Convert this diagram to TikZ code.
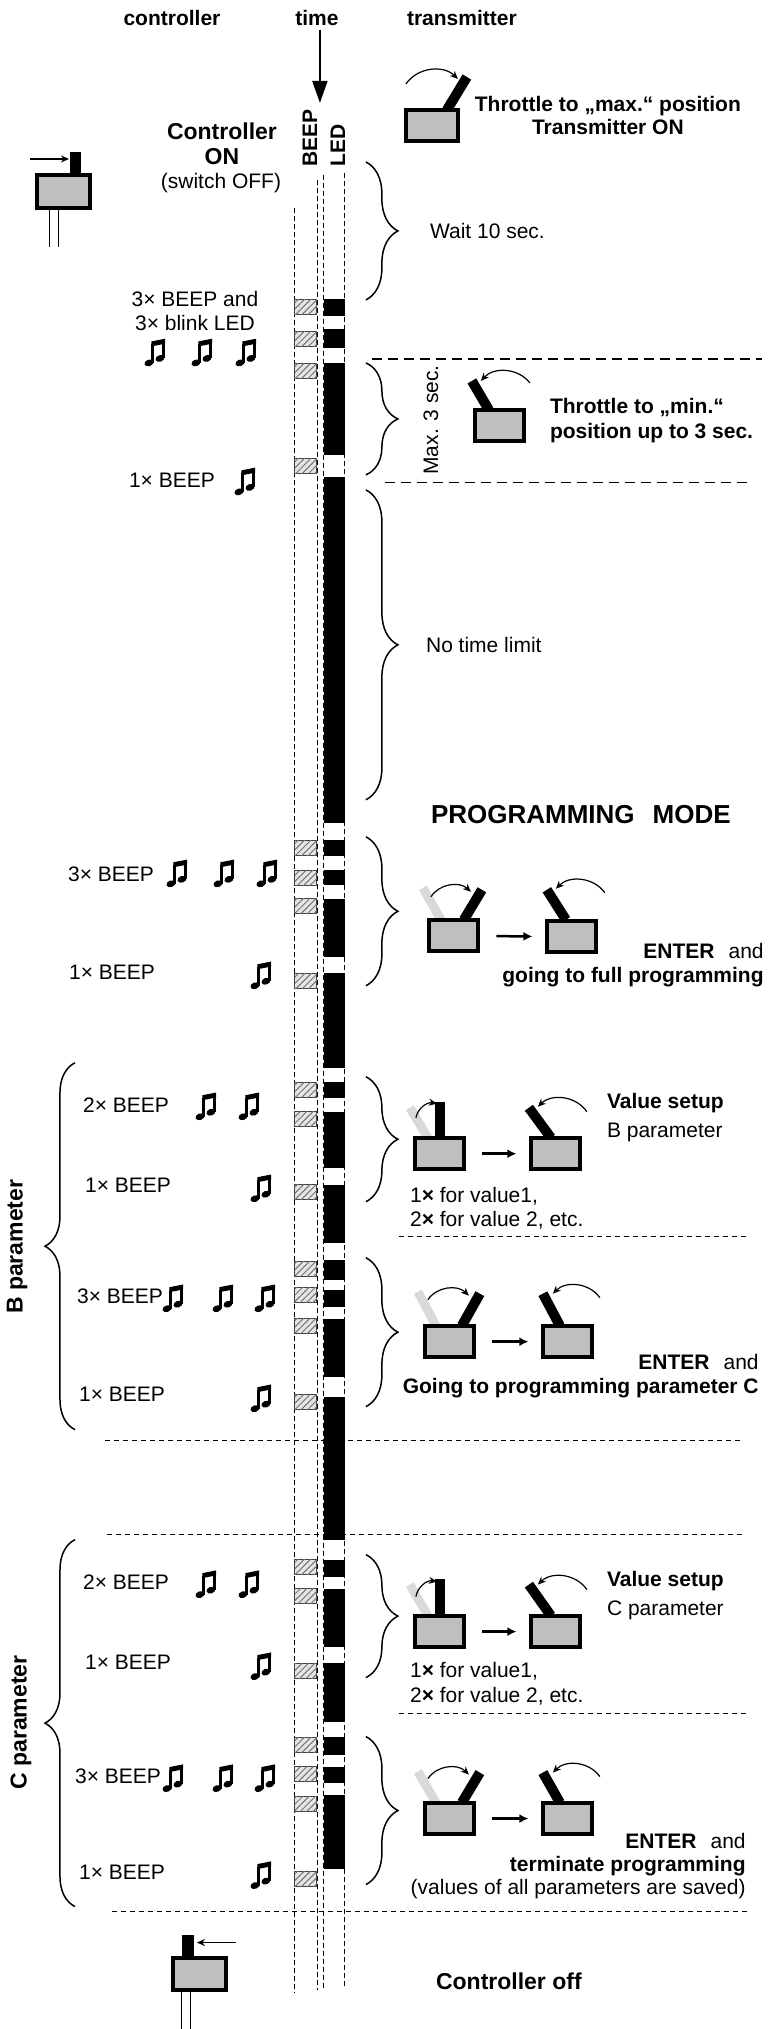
\documentclass[tikz,border=0pt]{standalone}
\usepackage{fontspec}
\setmainfont{Liberation Sans}
\usetikzlibrary{arrows.meta,decorations.pathreplacing,patterns.meta}

\tikzset{
  txt/.style={font=\fontsize{21}{25}\selectfont, inner sep=0pt},
  btxt/.style={font=\fontsize{21}{25}\selectfont\bfseries, inner sep=0pt},
  bigtxt/.style={font=\fontsize{23}{27}\selectfont\bfseries, inner sep=0pt},
  txbox/.style={draw, line width=4pt, fill=black!25, minimum width=49pt, minimum height=31pt, inner sep=0pt},
  stick/.style={line width=10pt},
  oldstick/.style={line width=9pt, color=black!15},
  swing/.style={-{Stealth[length=8pt,width=7pt,open]}, line width=1.2pt},
  push/.style={-{Stealth[length=8pt,width=7pt]}, line width=1.3pt},
  move/.style={-{Latex[length=9pt,width=9pt]}, line width=2.5pt, shorten <=16pt, shorten >=13pt},
  rbrace/.style={decorate, decoration={brace, amplitude=32pt}, line width=1.5pt},
  lbrace/.style={decorate, decoration={brace, amplitude=30pt}, line width=1.5pt},
  coldash/.style={dash pattern=on 5pt off 3pt, line width=1pt},
  longdash/.style={dash pattern=on 10pt off 6pt, line width=1.2pt},
  shortdash/.style={dash pattern=on 5pt off 4pt, line width=1pt},
  beep/.style={draw=black!75, line width=1pt, fill=black!10,
    postaction={pattern={Lines[angle=45,distance=4.5pt,line width=1pt]}, pattern color=black!55}},
  beamnote/.pic={
    \fill [shift={(-6,9)}, rotate=20] (0,0) ellipse (4.6 and 3.3);
    \fill [shift={(5,4.5)}, rotate=20] (0,0) ellipse (4.6 and 3.3);
    \draw [line width=2.6pt] (-2.2,9) -- (-2.2,-10);
    \draw [line width=2.6pt] (8.8,4.5) -- (8.8,-13);
    \fill (-3.5,-7.5) -- (-3.5,-12.5) -- (10.1,-15.2) -- (10.1,-10.2) -- cycle;
  },
}

\begin{document}
\begin{tikzpicture}[x=1pt,y=-1pt]

\fill [white] (0,0) rectangle (779,2029);

% headers
\node [btxt] (hctrl) at (172,18) {controller};
\node [btxt] (htime) at (317,18) {time};
\node [btxt] (htx) at (462,18) {transmitter};
\coordinate (tend) at (320,103);
\draw [-{Triangle[length=22pt,width=15pt]}, line width=2pt, shorten <=4pt] (htime.south -| tend) -- (tend);

% controller on
\node [bigtxt] (con1) at (222,131) {Controller};
\node [bigtxt] (con2) at (222,157) {ON};
\node [txt] (con3) at (221,183) {(switch OFF)};

\fill (70,152) rectangle (81,173);
\draw [line width=4pt, fill=black!25] (37,175) rectangle (90,208);
\draw [line width=1pt] (50,210) -- (50,247);
\draw [line width=1pt] (59,210) -- (59,247);
\coordinate (pin1) at (69,159);
\draw [push] (30,159) -- (pin1);

% column heads
\node [btxt, rotate=90, anchor=west] (lbeep) at (310,167) {BEEP};
\node [btxt, rotate=90, anchor=west] (lled) at (338,167) {LED};

% horizontal separators
\draw [longdash] (372,359) -- (762,359);
\draw [longdash] (385,483) -- (750,483);
\draw [shortdash] (399,1237) -- (749,1237);
\draw [shortdash] (105,1441) -- (742,1441);
\draw [shortdash] (107,1535) -- (742,1535);
\draw [shortdash] (399,1714) -- (749,1714);
\draw [shortdash] (112,1912) -- (747,1912);

% columns
\draw [coldash] (295,208) -- (295,1993);
\draw [coldash] (318,180) -- (318,1990);
\draw [coldash] (324,175) -- (324,1990);
\draw [coldash] (345,173) -- (345,1988);

\foreach \a/\b in {299/316, 329/348, 363/455, 477/823, 840/856, 870/885, 899/957,
  973/1068, 1082/1098, 1112/1168, 1185/1243, 1260/1280, 1290/1307, 1319/1377,
  1397/1540, 1560/1577, 1589/1647, 1663/1722, 1737/1755, 1767/1783, 1795/1869}
  \fill (324,\a) rectangle (345,\b);

\foreach \a in {300, 332, 364, 459, 841, 871, 899, 974, 1083, 1112, 1185,
  1262, 1288, 1319, 1395, 1560, 1589, 1664, 1738, 1767, 1797, 1872}
  \draw [beep] (295,\a) rectangle (317,\a+15);

% braces
\draw [rbrace] (366,162) -- (366,300);
\draw [rbrace] (366,363) -- (366,475);
\draw [rbrace] (366,490) -- (366,800);
\draw [rbrace] (366,837) -- (366,986);
\draw [rbrace] (366,1077) -- (366,1202);
\draw [rbrace] (366,1258) -- (366,1407);
\draw [rbrace] (366,1555) -- (366,1678);
\draw [rbrace] (366,1737) -- (366,1885);
\draw [lbrace] (75,1430) -- (75,1063);
\draw [lbrace] (75,1907) -- (75,1540);

% transmitter on
\draw [stick] (447,110) -- (467,77);
\node [txbox, minimum width=52pt] (t1) at (432,126) {};
\draw [swing] (406,84) to[bend left=50] (458,79);
\node [btxt, align=center, font=\fontsize{21}{23}\selectfont\bfseries] (tx1) at (608,116) {Throttle to „max.“ position\\Transmitter ON};
\node [txt, anchor=west] (wait) at (430,231) {Wait 10 sec.};

% 3x beep
\node [txt] (b3a) at (195,299) {3× BEEP and};
\node [txt] (b3b) at (195,323) {3× blink LED};
\pic at (155,354) {beamnote};
\pic at (202,354) {beamnote};
\pic at (246,354) {beamnote};

% throttle min
\node [txt, rotate=90] (max3) at (431,420) {Max. 3 sec.};
\draw [stick] (489,410) -- (472,381);
\node [txbox] (t2) at (500,426) {};
\draw [swing] (530,383) to[bend right=50] (481,381);
\node [btxt, anchor=west] (tmin1) at (550,408) {Throttle to „min.“};
\node [btxt, anchor=west] (tmin2) at (550,433) {position up to 3 sec.};
\node [txt] (b1a) at (172,480) {1× BEEP};
\pic at (245,483) {beamnote};
\node [txt, anchor=west] (notime) at (426,645) {No time limit};

% programming mode
\node [btxt, font=\fontsize{26}{30}\selectfont\bfseries] (pmode) at (581,815) {PROGRAMMING\hspace{18pt}MODE};
\node [txt] (b3c) at (111,874) {3× BEEP};
\pic at (177,875) {beamnote};
\pic at (224,875) {beamnote};
\pic at (267,875) {beamnote};
\node [txt] (b1b) at (112,973) {1× BEEP};
\pic at (261,977) {beamnote};
\draw [oldstick] (441,920) -- (423,888);
\draw [stick] (464,920) -- (482,890);
\draw [stick] (566,920) -- (547,890);
\node [txbox] (t3a) at (454,936) {};
\node [txbox] (t3b) at (572,937) {};
\draw [swing] (431,897) to[bend left=50] (471,892);
\draw [swing] (605,893) to[bend right=50] (556,889);
\draw [move] (t3a) -- (t3b);
\node [txt, anchor=east] (ent1) at (764,951) {\textbf{ENTER}\hspace{14pt}and};
\node [btxt, anchor=east] (full) at (764,977) {going to full programming};

% B parameter
\node [bigtxt, rotate=90] (bpar) at (17,1247) {B parameter};
\node [txt] (b2a) at (126,1105) {2× BEEP};
\pic at (206,1108) {beamnote};
\pic at (249,1108) {beamnote};
\node [txt] (b1c) at (128,1186) {1× BEEP};
\pic at (261,1190) {beamnote};
\draw [oldstick] (428,1138) -- (410,1108);
\draw [stick] (440,1138) -- (440,1102);
\draw [stick] (551,1138) -- (529,1108);
\node [txbox] (t4a) at (440,1154) {};
\node [txbox] (t4b) at (556,1154) {};
\draw [swing] (416,1118) to[bend left=45] (437,1104);
\draw [swing] (587,1112) to[bend right=50] (538,1107);
\draw [move] (t4a) -- (t4b);
\node [btxt, anchor=west] (vset1) at (607,1103) {Value setup};
\node [txt, anchor=west] (vpar1) at (607,1133) {B parameter};
\node [txt, anchor=west] (val1a) at (410,1197) {1\textbf{×} for value1,};
\node [txt, anchor=west] (val1b) at (410,1221) {2\textbf{×} for value 2, etc.};

\node [txt] (b3d) at (120,1297) {3× BEEP};
\pic at (173,1300) {beamnote};
\pic at (223,1300) {beamnote};
\pic at (265,1300) {beamnote};
\node [txt] (b1d) at (122,1395) {1× BEEP};
\pic at (261,1400) {beamnote};
\draw [oldstick] (436,1326) -- (418,1292);
\draw [stick] (462,1326) -- (480,1294);
\draw [stick] (560,1326) -- (543,1294);
\node [txbox] (t5a) at (450,1342) {};
\node [txbox] (t5b) at (568,1342) {};
\draw [swing] (428,1300) to[bend left=50] (469,1296);
\draw [swing] (600,1298) to[bend right=50] (553,1294);
\draw [move] (t5a) -- (t5b);
\node [txt, anchor=east] (ent2) at (759,1362) {\textbf{ENTER}\hspace{14pt}and};
\node [btxt, anchor=east] (gopc) at (759,1388) {Going to programming parameter C};

% C parameter
\node [bigtxt, rotate=90] (cpar) at (21,1723) {C parameter};
\node [txt] (b2b) at (126,1583) {2× BEEP};
\pic at (206,1586) {beamnote};
\pic at (249,1586) {beamnote};
\node [txt] (b1e) at (128,1663) {1× BEEP};
\pic at (261,1668) {beamnote};
\draw [oldstick] (428,1616) -- (410,1585);
\draw [stick] (440,1616) -- (440,1579);
\draw [stick] (551,1616) -- (529,1585);
\node [txbox] (t6a) at (440,1632) {};
\node [txbox] (t6b) at (556,1632) {};
\draw [swing] (416,1597) to[bend left=45] (437,1582);
\draw [swing] (587,1590) to[bend right=50] (538,1585);
\draw [move] (t6a) -- (t6b);
\node [btxt, anchor=west] (vset2) at (607,1581) {Value setup};
\node [txt, anchor=west] (vpar2) at (607,1611) {C parameter};
\node [txt, anchor=west] (val2a) at (410,1672) {1\textbf{×} for value1,};
\node [txt, anchor=west] (val2b) at (410,1697) {2\textbf{×} for value 2, etc.};

\node [txt] (b3e) at (118,1777) {3× BEEP};
\pic at (173,1780) {beamnote};
\pic at (223,1780) {beamnote};
\pic at (265,1780) {beamnote};
\node [txt] (b1f) at (122,1873) {1× BEEP};
\pic at (261,1877) {beamnote};
\draw [oldstick] (436,1803) -- (418,1772);
\draw [stick] (462,1803) -- (480,1773);
\draw [stick] (560,1803) -- (543,1773);
\node [txbox] (t7a) at (450,1819) {};
\node [txbox] (t7b) at (568,1819) {};
\draw [swing] (428,1779) to[bend left=50] (469,1775);
\draw [swing] (600,1777) to[bend right=50] (553,1773);
\draw [move] (t7a) -- (t7b);
\node [txt, anchor=east] (ent3) at (746,1841) {\textbf{ENTER}\hspace{14pt}and};
\node [btxt, anchor=east] (term) at (746,1867) {terminate programming};
\node [txt, anchor=east] (saved) at (746,1890) {(values of all parameters are saved)};

% controller off
\fill (182,1935) rectangle (194,1956);
\draw [line width=4pt, fill=black!25] (173,1958) rectangle (226,1990);
\draw [line width=1pt] (182,1992) -- (182,2029);
\draw [line width=1pt] (191,1992) -- (191,2029);
\coordinate (pin2) at (197,1943);
\draw [push] (236,1943) -- (pin2);
\node [bigtxt] (coff) at (509,1982) {Controller off};

\end{tikzpicture}
\end{document}
